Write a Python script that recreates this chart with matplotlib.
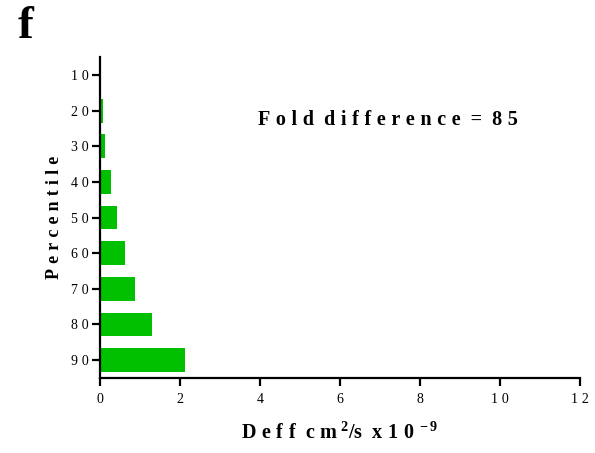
import matplotlib
matplotlib.use("Agg")
import matplotlib.pyplot as plt

percentiles = [10, 20, 30, 40, 50, 60, 70, 80, 90]
deff = [0.025, 0.07, 0.12, 0.27, 0.42, 0.62, 0.87, 1.30, 2.12]
x_ticks = [0, 2, 4, 6, 8, 10, 12]

plt.rcParams['mathtext.fontset'] = 'custom'
plt.rcParams['mathtext.rm'] = 'Liberation Serif:bold'
plt.rcParams['mathtext.bf'] = 'Liberation Serif:bold'
plt.rcParams['mathtext.it'] = 'Liberation Serif:bold'

SERIF = ['Liberation Serif', 'DejaVu Serif']
HS = '\u2009\u200a'


def spaced(s):
    return HS.join(s)


fig = plt.figure(figsize=(5.95, 4.53), dpi=100)
ax = fig.add_axes([0.168, 0.1656, 0.807, 0.7084])

ax.barh(percentiles, deff, height=6.7, color='#00c000', align='center')
ax.set_xlim(0, 12)
ax.set_ylim(95, 5)

ax.set_xticks(x_ticks)
ax.set_xticklabels([spaced(str(v)) for v in x_ticks], fontfamily=SERIF, fontsize=10)
ax.set_yticks(percentiles)
ax.set_yticklabels([spaced(str(v)) for v in percentiles], fontfamily=SERIF, fontsize=10)

for s in ['top', 'right']:
    ax.spines[s].set_visible(False)
for s in ['left', 'bottom']:
    ax.spines[s].set_linewidth(1.6)
ax.tick_params(axis='both', direction='out', length=6, width=1.6)
ax.tick_params(axis='y', pad=2)
ax.tick_params(axis='x', pad=5)

ax.set_ylabel(spaced('Percentile'), fontfamily=SERIF, fontsize=13,
              fontweight='bold', labelpad=6)
ax.set_xlabel(spaced('Deff') + '  ' + spaced('cm') + r'$^{\ 2}$' + '/s  '
              + spaced('x10') + r'$^{\ -9}$',
              fontfamily=SERIF, fontsize=14.5, fontweight='bold', labelpad=12)

ax.text(0.329, 0.804, spaced('Fold') + '  ' + spaced('difference') + '  =  ' + spaced('85'),
        transform=ax.transAxes, ha='left', va='center',
        fontfamily=SERIF, fontsize=14.5, fontweight='bold')

fig.text(0.029, 0.916, 'f', fontfamily=SERIF, fontsize=34, fontweight='bold',
         ha='left', va='baseline')

fig.savefig('out.png', dpi=100)
